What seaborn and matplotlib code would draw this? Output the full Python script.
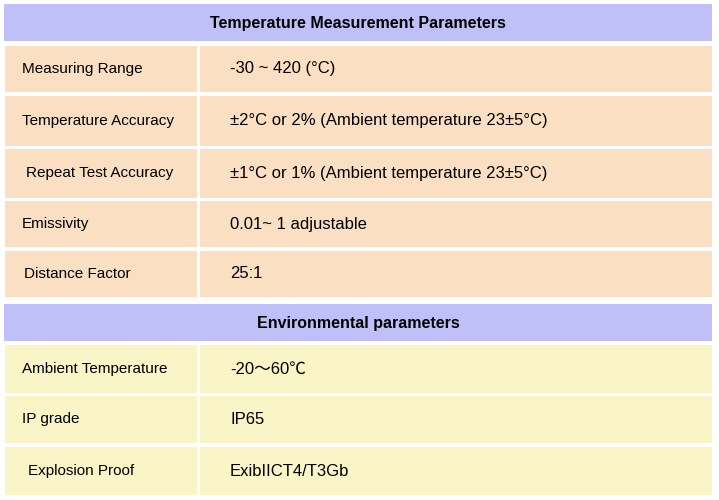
import matplotlib
matplotlib.use("Agg")
import matplotlib.pyplot as plt
import seaborn as sns
from matplotlib.patches import Rectangle

sns.set_theme(style="white")
plt.rcParams['font.family'] = ['Liberation Sans', 'DejaVu Sans']

headers = ["Temperature Measurement Parameters", "Environmental parameters"]
section1_labels = ["Measuring Range", "Temperature Accuracy", "Repeat Test Accuracy", "Emissivity", "Distance Factor"]
section1_values = ["-30 ~ 420 (°C)", "±2°C or 2% (Ambient temperature 23±5°C)",
                   "±1°C or 1% (Ambient temperature 23±5°C)", "0.01~ 1 adjustable", "25:1"]
section2_labels = ["Ambient Temperature", "IP grade", "Explosion Proof"]
section2_values = ["-20～60℃", "IP65", "ExibIICT4/T3Gb"]

fig = plt.figure(figsize=(7.19, 5.0), dpi=100)
ax = fig.add_axes([0, 0, 1, 1])
ax.set_xlim(0, 719)
ax.set_ylim(500, 0)
ax.axis("off")

LAV, PEACH, YEL = "#c0c0f8", "#fadfc3", "#faf5c6"
header_boxes = [(4, 41), (304, 341)]
rows1 = [(46, 92), (96, 146), (149, 198), (201, 247), (251, 297)]
rows2 = [(345, 393), (396, 443), (447, 495)]
lx1 = [22, 22, 26, 22, 24]
lx2 = [22, 22, 28]

for (t, b), h in zip(header_boxes, headers):
    ax.add_patch(Rectangle((4, t), 708, b - t, color=LAV, lw=0))
    ax.text(358, (t + b) / 2 + 1, h, ha="center", va="center", fontsize=11.5, fontweight="bold", color="black")

def section(rows, labels, values, lxs, color):
    for (t, b), lab, val, lx in zip(rows, labels, values, lxs):
        ax.add_patch(Rectangle((5, t), 192, b - t, color=color, lw=0))
        ax.add_patch(Rectangle((200, t), 512, b - t, color=color, lw=0))
        yc = (t + b) / 2
        ax.text(lx, yc, lab, ha="left", va="center", fontsize=11, color="black")
        ax.text(230, yc, val, ha="left", va="center", fontsize=12, color="black",
                family=['Liberation Sans', 'Noto Sans CJK SC', 'DejaVu Sans'])

section(rows1, section1_labels, section1_values, lx1, PEACH)
section(rows2, section2_labels, section2_values, lx2, YEL)

fig.savefig("out.png", dpi=100)
